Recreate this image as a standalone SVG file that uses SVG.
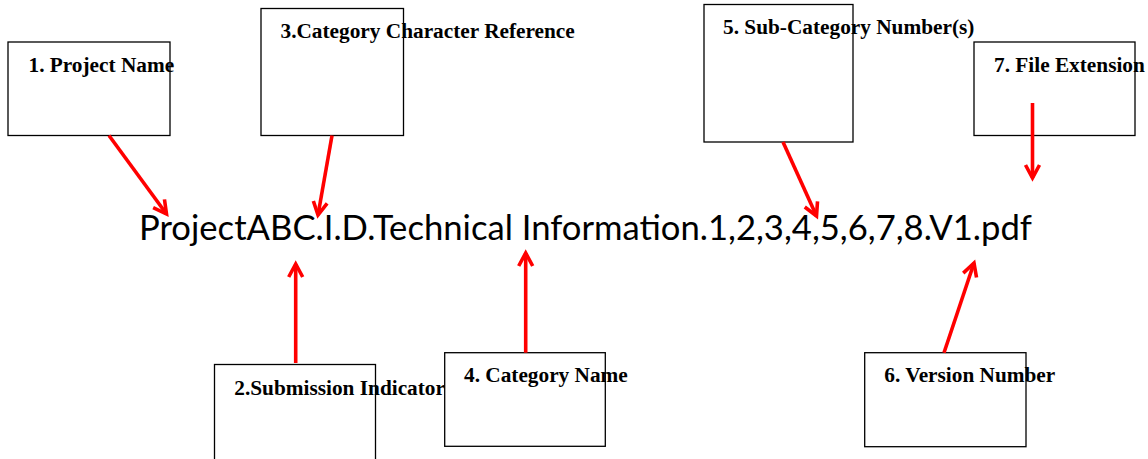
<svg xmlns="http://www.w3.org/2000/svg" width="1148" height="459" viewBox="0 0 1148 459">
<style>
.box{fill:#fff;stroke:#000;stroke-width:1.3}
.lbl{font-family:"Liberation Serif","Times New Roman",serif;font-weight:bold;font-size:21.3px;fill:#000}
.main{font-family:Lato,"Carlito","Liberation Sans",sans-serif;font-size:34px;fill:#000}
.arr{stroke:#ff0000;stroke-width:3.6;fill:none;marker-end:url(#ah)}
</style>
<defs>
<marker id="ah" markerUnits="userSpaceOnUse" markerWidth="30" markerHeight="30" refX="0" refY="0" viewBox="-20 -15 30 30" orient="auto" overflow="visible">
<path d="M-13,-7 L0,0 L-13,7" fill="none" stroke="#ff0000" stroke-width="3.6" stroke-linejoin="miter"/>
</marker>
</defs>
<rect width="1148" height="459" fill="#fff"/>
<g id="node1"><rect class="box" x="8" y="42" width="162" height="93.5"/><text class="lbl" x="28.5" y="72">1. Project Name</text></g>
<g id="node3"><rect class="box" x="261" y="8.5" width="142.5" height="127"/><text class="lbl" x="280.5" y="38">3.Category Character Reference</text></g>
<g id="node5"><rect class="box" x="704" y="4.5" width="149" height="137.5"/><text class="lbl" x="723" y="34">5. Sub-Category Number(s)</text></g>
<g id="node7"><rect class="box" x="974" y="42" width="161" height="93.5"/><text class="lbl" x="994" y="72">7. File Extension</text></g>
<g id="node2"><rect class="box" x="214.5" y="364.5" width="161" height="96"/><text class="lbl" x="234.3" y="395">2.Submission Indicator</text></g>
<g id="node4"><rect class="box" x="444.7" y="352.7" width="160.6" height="93.6"/><text class="lbl" x="464" y="382.3">4. Category Name</text></g>
<g id="node6"><rect class="box" x="864.7" y="352.7" width="161.3" height="94"/><text class="lbl" x="884.3" y="382.3">6. Version Number</text></g>
<g id="filename"><text class="main" x="139" y="240" textLength="893" lengthAdjust="spacingAndGlyphs">ProjectABC.I.D.Technical Information.1,2,3,4,5,6,7,8.V1.pdf</text></g>
<g id="connectors">
<line class="arr" x1="109" y1="135.5" x2="166.5" y2="214"/>
<line class="arr" x1="332" y1="135.5" x2="318" y2="215"/>
<line class="arr" x1="783" y1="142" x2="816.5" y2="216"/>
<line class="arr" x1="1032.5" y1="103" x2="1032.5" y2="178"/>
<line class="arr" x1="295.7" y1="363" x2="295.7" y2="264"/>
<line class="arr" x1="525.7" y1="352.7" x2="525.7" y2="253"/>
<line class="arr" x1="944" y1="352.7" x2="974" y2="263"/>
</g>
</svg>
